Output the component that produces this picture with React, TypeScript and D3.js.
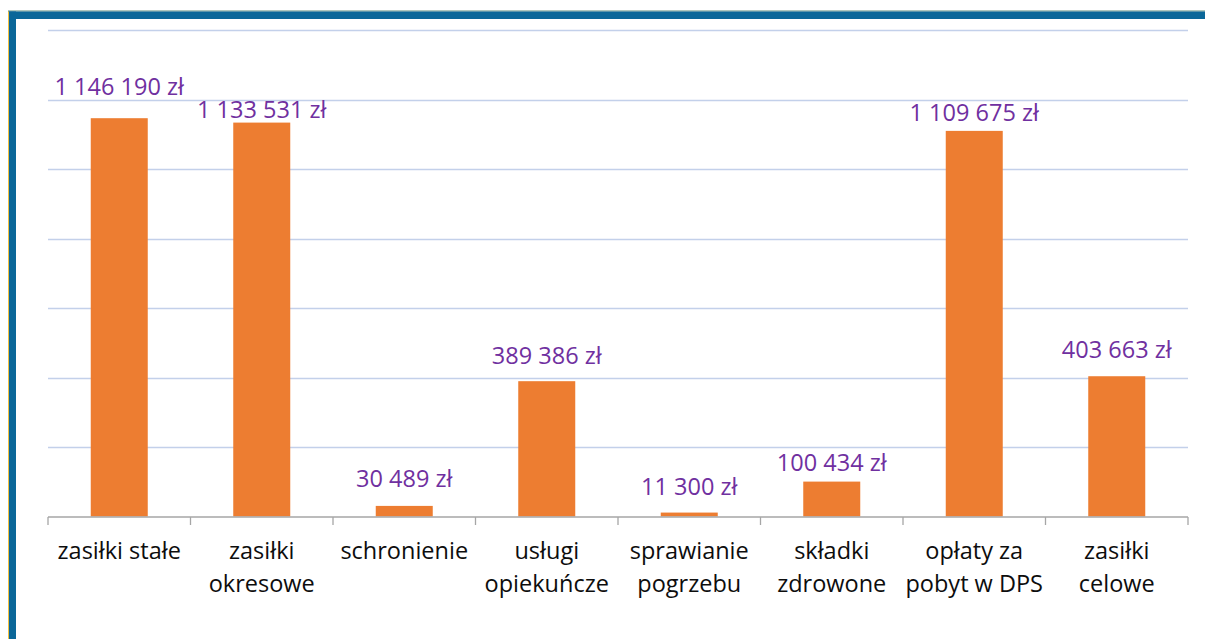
import React from "react";
import * as d3 from "d3";

const categories: string[] = [
  "zasiłki stałe",
  "zasiłki okresowe",
  "schronienie",
  "usługi opiekuńcze",
  "sprawianie pogrzebu",
  "składki zdrowone",
  "opłaty za pobyt w DPS",
  "zasiłki celowe",
];
const categoryLines: string[][] = [
  ["zasiłki stałe"],
  ["zasiłki", "okresowe"],
  ["schronienie"],
  ["usługi", "opiekuńcze"],
  ["sprawianie", "pogrzebu"],
  ["składki", "zdrowone"],
  ["opłaty za", "pobyt w DPS"],
  ["zasiłki", "celowe"],
];
const values: number[] = [1146190, 1133531, 30489, 389386, 11300, 100434, 1109675, 403663];
const yTicks: number[] = [0, 200000, 400000, 600000, 800000, 1000000, 1200000, 1400000];

// label lift above bar top (manual placement in the original)
const labelLift: number[] = [23, 5, 19, 17, 18, 11, 10, 18];

const W = 1205;
const H = 639;
const FONT = "'Open Sans', Lato, sans-serif";

export default function App() {
  const x = d3
    .scaleBand<string>()
    .domain(categories)
    .range([48, 1188])
    .paddingInner(0.6)
    .paddingOuter(0.3);
  const y = d3.scaleLinear().domain([0, 1400000]).range([516.5, 30]);
  const step = x.step();
  const fmt = (v: number) => d3.format(",")(v).replace(/,/g, " ") + " zł";
  const boundaries = d3.range(categories.length + 1).map((i) => 48 + i * step);

  return (
    <div style={{ position: "absolute", left: 0, top: 0, width: W, height: H, background: "#fff" }}>
      <svg width={W} height={H} style={{ display: "block" }}>
        <rect x={0} y={0} width={W} height={H} fill="#fff" />
        {/* frame */}
        <rect x={8} y={11} width={1} height={H - 11} fill="#F2C140" />
        <rect x={8} y={10.5} width={W - 8} height={1} fill="#5E8C7A" />
        <rect x={9} y={11.5} width={7} height={H - 11.5} fill="#0B6799" />
        <rect x={9} y={11.5} width={W - 9} height={7.5} fill="#0B6799" />

        {/* gridlines */}
        {yTicks.slice(1).map((t) => (
          <line
            key={t}
            x1={48}
            x2={1188}
            y1={Math.round(y(t)) + 0.5}
            y2={Math.round(y(t)) + 0.5}
            stroke="#C3D0EA"
            strokeWidth={1.3}
          />
        ))}

        {/* bars */}
        {categories.map((c, i) => (
          <rect
            key={c}
            x={x(c)!}
            y={y(values[i])}
            width={x.bandwidth()}
            height={y(0) - y(values[i])}
            fill="#ED7D31"
          />
        ))}

        {/* axis */}
        <line x1={48} x2={1188} y1={517} y2={517} stroke="#A6A6A6" strokeWidth={1.3} />
        {boundaries.map((bx, i) => (
          <line key={i} x1={bx} x2={bx} y1={517} y2={525} stroke="#A6A6A6" strokeWidth={1.3} />
        ))}

        {/* value labels */}
        {categories.map((c, i) => (
          <text
            key={c}
            x={x(c)! + x.bandwidth() / 2}
            y={y(values[i]) - labelLift[i]}
            textAnchor="middle"
            fontFamily={FONT}
            fontSize={23.5}
            fill="#7030A0"
          >
            {fmt(values[i])}
          </text>
        ))}

        {/* category labels */}
        {categories.map((c, i) => (
          <text
            key={c}
            x={x(c)! + x.bandwidth() / 2}
            y={559}
            textAnchor="middle"
            fontFamily={FONT}
            fontSize={23.5}
            fill="#0D0D0D"
          >
            {categoryLines[i].map((ln, j) => (
              <tspan key={j} x={x(c)! + x.bandwidth() / 2} dy={j === 0 ? 0 : 32.5}>
                {ln}
              </tspan>
            ))}
          </text>
        ))}
      </svg>
    </div>
  );
}
